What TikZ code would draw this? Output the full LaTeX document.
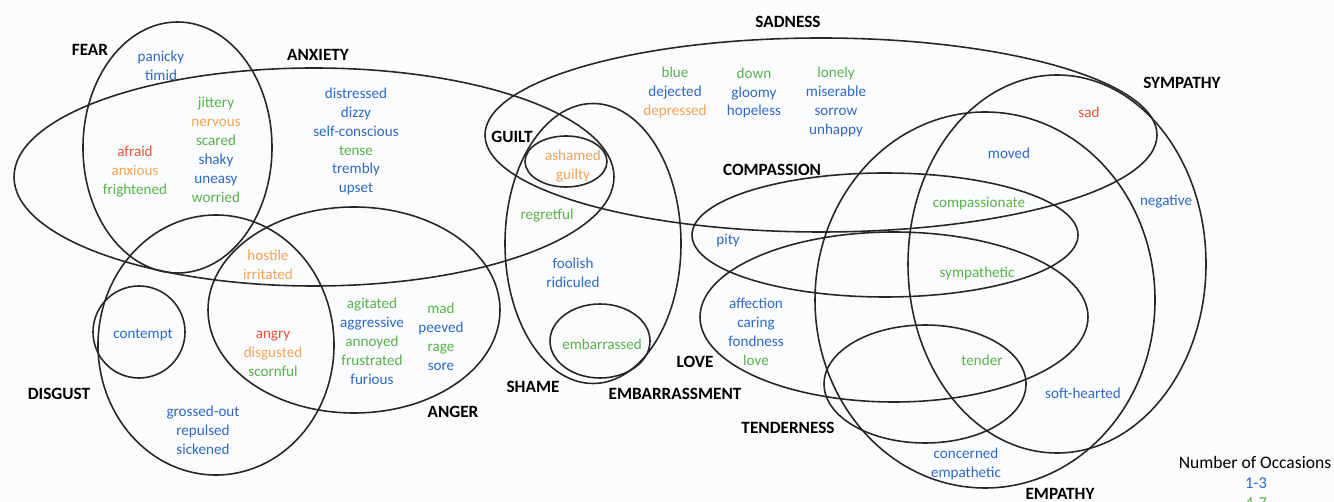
\documentclass[tikz,border=0pt]{standalone}
\usepackage{fontspec}
\setmainfont{Carlito}
\definecolor{bw}{RGB}{46,104,196}
\definecolor{gw}{RGB}{86,178,72}
\definecolor{ow}{RGB}{246,162,84}
\definecolor{rw}{RGB}{232,82,52}
\definecolor{bgw}{RGB}{251,252,254}
\begin{document}
\begin{tikzpicture}[x=0.02cm,y=-0.02cm,
  words/.style={font=\fontsize{8.6}{10.8}\selectfont, align=center, inner sep=0pt},
  lab/.style={font=\bfseries\fontsize{9.8}{12}\selectfont, inner sep=0pt},
  set/.style={draw=black!85, line width=0.9pt}]
\useasboundingbox[fill=bgw] (0,0) rectangle (1334,502);
% sets
\draw[set] (177.5,147.5) ellipse [x radius=94.5, y radius=125.5];
\draw[set] (314,177) ellipse [x radius=300, y radius=109];
\draw[set] (821,135) ellipse [x radius=336, y radius=97];
\draw[set] (566,161.5) ellipse [x radius=41, y radius=25.5];
\draw[set] (593,243.5) ellipse [x radius=88, y radius=140];
\draw[set] (600,341) ellipse [x radius=50, y radius=37];
\draw[set] (885,235) ellipse [x radius=193, y radius=62];
\draw[set] (894,317) ellipse [x radius=194, y radius=85];
\draw[set] (925,384) ellipse [x radius=101, y radius=59];
\draw[set] (1057,264) ellipse [x radius=149, y radius=189];
\draw[set] (985,300) ellipse [x radius=170, y radius=188];
\draw[set] (354,310) ellipse [x radius=146, y radius=103];
\draw[set] (216,345) ellipse [x radius=118, y radius=130];
\draw[set] (139,332) ellipse [x radius=46, y radius=46];
% set labels
\node[lab] (lfear) at (90,50) {FEAR};
\node[lab] (lanx) at (318,55) {ANXIETY};
\node[lab] (lsad) at (788,22) {SADNESS};
\node[lab] (lsym) at (1182,83) {SYMPATHY};
\node[lab] (lguilt) at (512,137) {GUILT};
\node[lab] (lcomp) at (772,170) {COMPASSION};
\node[lab] (llove) at (695,362) {LOVE};
\node[lab] (lshame) at (533,387) {SHAME};
\node[lab] (lemb) at (675,394) {EMBARRASSMENT};
\node[lab] (lten) at (788,428) {TENDERNESS};
\node[lab] (lemp) at (1060,494) {EMPATHY};
\node[lab] (ldis) at (59,394) {DISGUST};
\node[lab] (lang) at (453,412) {ANGER};
% words
\node[words] (w1) at (161,66) {\textcolor{bw}{panicky}\\\textcolor{bw}{timid}};
\node[words] (w2) at (216,149.5) {\textcolor{gw}{jittery}\\\textcolor{ow}{nervous}\\\textcolor{gw}{scared}\\\textcolor{bw}{shaky}\\\textcolor{bw}{uneasy}\\\textcolor{gw}{worried}};
\node[words] (w3) at (135,172) {\textcolor{rw}{afraid}\\\textcolor{ow}{anxious}\\\textcolor{gw}{frightened}};
\node[words] (w4) at (356,141.5) {\textcolor{bw}{distressed}\\\textcolor{bw}{dizzy}\\\textcolor{bw}{self-conscious}\\\textcolor{gw}{tense}\\\textcolor{bw}{trembly}\\\textcolor{bw}{upset}};
\node[words] (w5) at (675,92.5) {\textcolor{gw}{blue}\\\textcolor{bw}{dejected}\\\textcolor{ow}{depressed}};
\node[words] (w6) at (754,93) {\textcolor{gw}{down}\\\textcolor{bw}{gloomy}\\\textcolor{bw}{hopeless}};
\node[words] (w7) at (836,102) {\textcolor{gw}{lonely}\\\textcolor{bw}{miserable}\\\textcolor{bw}{sorrow}\\\textcolor{bw}{unhappy}};
\node[words] (w8) at (1089,112) {\textcolor{rw}{sad}};
\node[words] (w9) at (1009,153) {\textcolor{bw}{moved}};
\node[words] (w10) at (1166,202) {\textcolor{bw}{negative}};
\node[words] (w11) at (979,204) {\textcolor{gw}{compassionate}};
\node[words] (w12) at (573,166) {\textcolor{ow}{ashamed}\\\textcolor{ow}{guilty}};
\node[words] (w13) at (547,216) {\textcolor{gw}{regretful}};
\node[words] (w14) at (728,241) {\textcolor{bw}{pity}};
\node[words] (w15) at (573,272.5) {\textcolor{bw}{foolish}\\\textcolor{bw}{ridiculed}};
\node[words] (w16) at (602,344) {\textcolor{gw}{embarrassed}};
\node[words] (w17) at (756,331.5) {\textcolor{bw}{affection}\\\textcolor{bw}{caring}\\\textcolor{bw}{fondness}\\\textcolor{gw}{love}};
\node[words] (w18) at (977,273) {\textcolor{gw}{sympathetic}};
\node[words] (w19) at (982,360) {\textcolor{gw}{tender}};
\node[words] (w20) at (1083,393) {\textcolor{bw}{soft-hearted}};
\node[words] (w21) at (966,463.5) {\textcolor{bw}{concerned}\\\textcolor{bw}{empathetic}};
\node[words] (w22) at (268,264.5) {\textcolor{ow}{hostile}\\\textcolor{ow}{irritated}};
\node[words] (w23) at (143,335) {\textcolor{bw}{contempt}};
\node[words] (w24) at (273,353.5) {\textcolor{rw}{angry}\\\textcolor{ow}{disgusted}\\\textcolor{gw}{scornful}};
\node[words] (w25) at (372,341) {\textcolor{gw}{agitated}\\\textcolor{bw}{aggressive}\\\textcolor{gw}{annoyed}\\\textcolor{gw}{frustrated}\\\textcolor{bw}{furious}};
\node[words] (w26) at (441,337) {\textcolor{gw}{mad}\\\textcolor{bw}{peeved}\\\textcolor{gw}{rage}\\\textcolor{bw}{sore}};
\node[words] (w27) at (203,430) {\textcolor{bw}{grossed-out}\\\textcolor{bw}{repulsed}\\\textcolor{bw}{sickened}};
% legend
\node[font=\fontsize{10}{12}\selectfont, inner sep=0pt] (leg) at (1255,462) {Number of Occasions};
\node[words, font=\fontsize{9.4}{11}\selectfont] (leg1) at (1256,483) {\textcolor{bw}{1-3}};
\node[words, font=\fontsize{9.4}{11}\selectfont] (leg2) at (1256,503) {\textcolor{gw}{4-7}};
\end{tikzpicture}
\end{document}
